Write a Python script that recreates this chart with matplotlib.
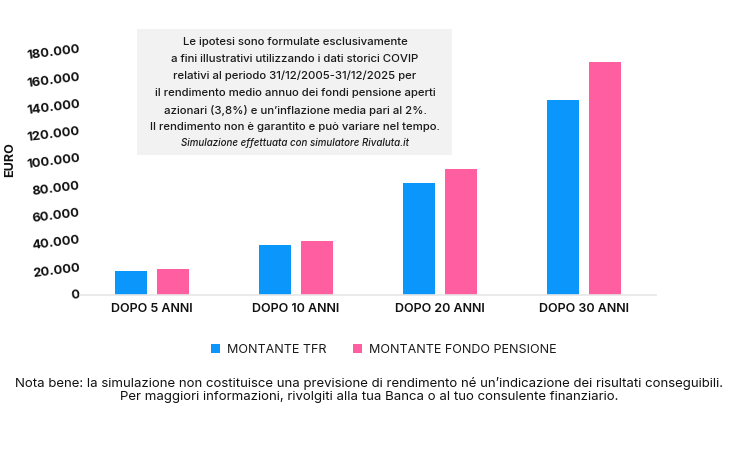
import matplotlib
matplotlib.use("Agg")
import matplotlib.pyplot as plt
import numpy as np
from matplotlib.patches import FancyBboxPatch

plt.rcParams['font.family'] = ['Inter', 'DejaVu Sans']

categories = ["DOPO 5 ANNI", "DOPO 10 ANNI", "DOPO 20 ANNI", "DOPO 30 ANNI"]
tfr = [18000, 36800, 82000, 143500]
fondo = [19000, 39500, 92500, 171000]
series_names = ["MONTANTE TFR", "MONTANTE FONDO PENSIONE"]
yticks = [0, 20000, 40000, 60000, 80000, 100000, 120000, 140000, 160000, 180000]
ytick_labels = ["0", "20.000", "40.000", "60.000", "80.000", "100.000", "120.000", "140.000", "160.000", "180.000"]

box_lines = [
    "Le ipotesi sono formulate esclusivamente",
    "a fini illustrativi utilizzando i dati storici COVIP",
    "relativi al periodo 31/12/2005-31/12/2025 per",
    "il rendimento medio annuo dei fondi pensione aperti",
    "azionari (3,8%) e un\u2019inflazione media pari al 2%.",
    "Il rendimento non \u00e8 garantito e pu\u00f2 variare nel tempo.",
]
box_note = "Simulazione effettuata con simulatore Rivaluta.it"
footnote = ("Nota bene: la simulazione non costituisce una previsione di rendimento n\u00e9 un\u2019indicazione dei risultati conseguibili.\n"
            "Per maggiori informazioni, rivolgiti alla tua Banca o al tuo consulente finanziario.")

blue = "#0A96FA"
pink = "#FF5FA0"

W, H = 736, 459
fig = plt.figure(figsize=(W/100, H/100), dpi=100)
ax = fig.add_axes([80/W, 1-295/H, (656-80)/W, (295-50)/H])

x = np.arange(len(categories))
bw = 0.22
gap = 0.035
ax.bar(x - bw/2 - gap, tfr, width=bw, color=blue, label=series_names[0], zorder=2)
ax.bar(x + bw/2 + gap, fondo, width=bw, color=pink, label=series_names[1], zorder=2)

ax.set_xlim(-0.5, len(categories) - 0.5)
ax.set_ylim(0, 180000)
ax.set_yticks(yticks)
ax.set_yticklabels(ytick_labels, rotation=7, fontsize=9.3, fontweight='bold', color='#111111',
                   ha='right', va='center', rotation_mode='anchor')
ax.set_xticks(x)
ax.set_xticklabels(categories, fontsize=9, fontweight='semibold', color='#111111')
ax.tick_params(axis='both', length=0)
ax.tick_params(axis='y', pad=0)
ax.tick_params(axis='x', pad=6)
for s in ['top', 'right', 'left']:
    ax.spines[s].set_visible(False)
ax.spines['bottom'].set_color('#e6e6e6')
ax.spines['bottom'].set_linewidth(1.2)

fig.text(10/W, 1-160/H, "EURO", rotation=90, fontsize=9, fontweight='bold', ha='center', va='center', color='#111111')

# annotation box
fig.patches.append(FancyBboxPatch((137/W, 1-155/H), (452-137)/W, (155-29)/H,
                                  boxstyle="square,pad=0", transform=fig.transFigure,
                                  facecolor='#f2f2f2', edgecolor='none', zorder=3))
ys = [42, 59, 76, 93, 110, 127]
for line, yy in zip(box_lines, ys):
    fig.text(295/W, 1-yy/H, line, fontsize=8.2, fontweight='medium', ha='center', va='center', color='#1a1a1a', zorder=4)
fig.text(295/W, 1-143/H, box_note, fontsize=7, fontstyle='italic', fontweight='medium', ha='center', va='center', color='#1a1a1a', zorder=4)

# legend
leg = fig.legend(loc='center', bbox_to_anchor=(384/W, 1-350/H), ncol=2, frameon=False,
                 fontsize=9, handlelength=0.7, handleheight=0.7, handletextpad=0.6, columnspacing=2.1)
for t in leg.get_texts():
    t.set_color('#1a1a1a')

fig.text(369/W, 1-390/H, footnote, fontsize=9.5, ha='center', va='center', color='#111111', linespacing=1.2)

fig.savefig("out.png", dpi=100, facecolor='white')
